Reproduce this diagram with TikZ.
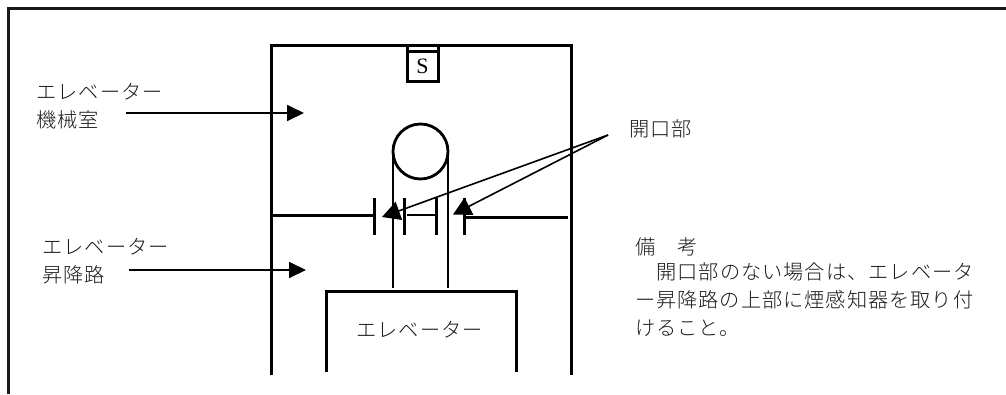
\documentclass[tikz,border=0pt]{standalone}
\usepackage{fontspec}
\usetikzlibrary{arrows.meta}
\newfontfamily\jpfont[LetterSpace=5]{Noto Sans CJK JP Light}
\setmainfont{Liberation Serif}
\tikzset{
  heavy/.style={draw=black,line width=2.9pt},
  frameline/.style={draw=black!90,line width=3pt},
  pointer/.style={draw=black,line width=1.8pt,-{Triangle[length=17pt,width=16pt]}},
  slantpointer/.style={draw=black,line width=1.6pt,-{Triangle[length=18pt,width=19pt]}},
  jp/.style={anchor=west,inner sep=0pt,outer sep=0pt,text=black!90,font=\jpfont\fontsize{20.2}{20.2}\selectfont},
  tick/.style={draw=black,line width=2.9pt},
  rope/.style={draw=black,line width=2.4pt}
}
\begin{document}
\begin{tikzpicture}[x=1pt,y=-1pt]
\useasboundingbox (0,0) rectangle (1006,394);
% outer frame
\draw[frameline] (1006,8.5) -- (8.5,8.5) -- (8.5,394);
% shaft
\draw[heavy] (271.5,375) -- (271.5,45.5) -- (571.5,45.5) -- (571.5,375);
% detector
\node[draw=black,line width=2.9pt,minimum width=31pt,minimum height=36pt,inner sep=0pt,outer sep=0pt] (sbox) at (423,63.5) {};
\node[font=\fontsize{22}{22}\selectfont,inner sep=0pt] (slabel) at (422.5,66.5) {S};
\draw[tick] (sbox.west |- 0,51.5) -- (sbox.east |- 0,51.5);
% sheave and ropes
\node[draw=black,line width=2.8pt,circle,minimum size=55pt,inner sep=0pt,outer sep=0pt] (sheave) at (420.5,151.5) {};
\coordinate (ropeLb) at (393,288);
\coordinate (ropeRb) at (448,288);
\draw[rope] (sheave.west) -- (ropeLb);
\draw[rope] (sheave.east) -- (ropeRb);
% floor slab
\draw[tick] (271,215.5) -- (374.5,215.5);
\draw[tick] (374.5,198) -- (374.5,235);
\draw[tick] (404.5,198) -- (404.5,235);
\draw[rope] (407,215) -- (436,215);
\draw[tick] (436.5,198) -- (436.5,235);
\draw[tick] (464.5,198) -- (464.5,235);
\draw[heavy] (464.5,217.5) -- (568,217.5);
% car
\draw[heavy] (326.5,372) -- (326.5,291.5) -- (516.5,291.5) -- (516.5,372);
% labels
\node[jp] (machA) at (36.5,92) {エレベーター};
\node[jp] (machB) at (36.5,120) {機械室};
\node[jp] (hoistA) at (42.5,247) {エレベーター};
\node[jp] (hoistB) at (42.5,275) {昇降路};
\node[jp] (car) at (356.5,330) {エレベーター};
\node[jp] (open) at (629,129) {開口部};
\node[jp] (noteA) at (635,247) {備　考};
\node[jp] (noteB) at (656.5,272) {開口部のない場合は、エレベータ};
\node[jp] (noteC) at (635,300) {ー昇降路の上部に煙感知器を取り付};
\node[jp] (noteD) at (635,328) {けること。};
% pointers
\coordinate (machS) at (126,113);
\coordinate (machT) at (304,113);
\coordinate (hoistS) at (129,270);
\coordinate (hoistT) at (306,270);
\coordinate (openS) at (608,135);
\coordinate (openL) at (382,217);
\coordinate (openR) at (453,214.5);
\draw[pointer] (machS) -- (machT);
\draw[pointer] (hoistS) -- (hoistT);
\draw[slantpointer] (openS) -- (openL);
\draw[slantpointer] (openS) -- (openR);
\end{tikzpicture}
\end{document}
